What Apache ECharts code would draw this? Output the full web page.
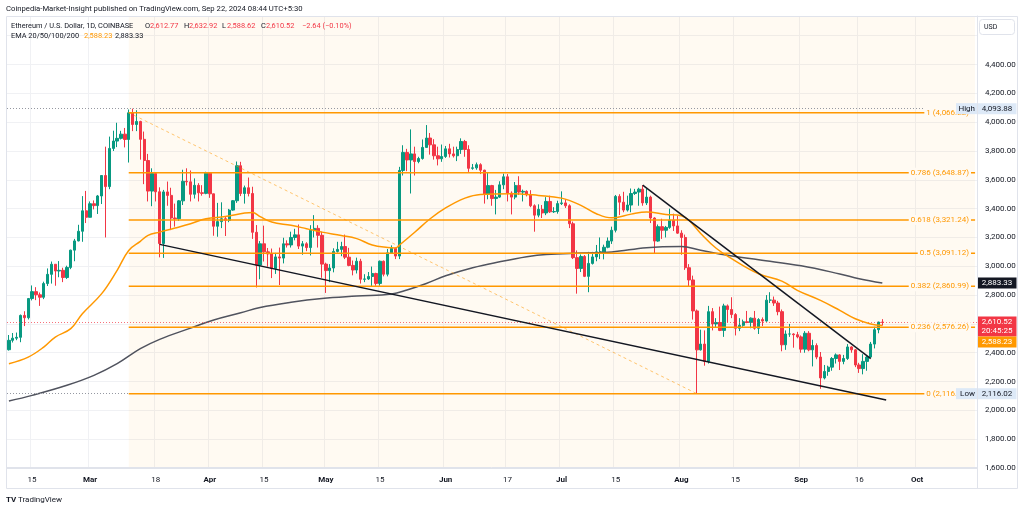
<!DOCTYPE html>
<html><head><meta charset="utf-8">
<script src="https://cdn.jsdelivr.net/npm/echarts@6/dist/echarts.min.js"></script>
<style>html,body{margin:0;padding:0;background:#fff}#c{width:1024px;height:511px}</style>
</head><body><div id="c"></div>
<script>
// ---------------- DATA ----------------
const startDate = '2024-02-09';
const categoryCount = 251;
const tickDates = ['2024-02-15','2024-03-01','2024-03-18','2024-04-01','2024-04-15','2024-05-01','2024-05-15','2024-06-01','2024-06-17','2024-07-01','2024-07-15','2024-08-01','2024-08-15','2024-09-01','2024-09-16','2024-10-01'];
const monthNames = ['Jan','Feb','Mar','Apr','May','Jun','Jul','Aug','Sep','Oct','Nov','Dec'];

// candles: [open, close, low, high], one row per day
const febCandles = [
[2421,2486,2415,2523],[2486,2501,2471,2537],[2501,2507,2487,2540],[2507,2659,2473,2665],[2659,2643,2585,2688],
[2643,2776,2631,2780],[2776,2824,2763,2867],[2824,2802,2765,2855],[2802,2785,2725,2818],[2785,2880,2772,2893],
[2880,2944,2863,2985],[2944,3014,2880,3033],[3014,2967,2865,3015],[2967,2972,2924,3036],[2972,2922,2890,2990],
[2922,2992,2912,3004],[2992,3112,2980,3115],[3112,3176,3035,3190],[3176,3243,3173,3288],[3243,3385,3170,3487],
[3385,3340,3300,3523]];
const marCandles = [
[3340,3434,3340,3450],[3434,3421,3395,3457],[3421,3488,3363,3495],[3488,3630,3432,3633],[3630,3553,3200,3830],
[3553,3818,3535,3900],[3818,3869,3800,3941],[3869,3888,3827,3996],[3888,3917,3880,3940],[3917,3880,3825,3960],
[3880,4065,3720,4088],[4065,3984,3938,4093.88],[3984,4005,3938,4083],[4005,3881,3740,4010],[3881,3734,3570,3935],
[3734,3522,3450,3780],[3522,3644,3417,3680],[3644,3517,3450,3645],[3517,3158,3062,3548],[3158,3516,3058,3530],
[3516,3492,3420,3588],[3492,3335,3251,3545],[3335,3330,3275,3435],[3330,3454,3315,3460],[3454,3590,3425,3670],
[3590,3586,3560,3680],[3586,3500,3450,3665],[3500,3562,3470,3610],[3562,3510,3450,3577],[3510,3506,3490,3563],
[3506,3646,3500,3656]];
const aprCandles = [
[3646,3503,3475,3650],[3503,3278,3212,3504],[3278,3310,3205,3440],[3310,3330,3265,3444],[3330,3318,3210,3345],
[3318,3390,3306,3398],[3390,3455,3385,3460],[3455,3698,3440,3727],[3698,3505,3487,3725],[3505,3545,3435,3560],
[3545,3505,3485,3616],[3505,3236,3190,3552],[3236,3008,2853,3286],[3008,3156,2910,3175],[3156,3100,3033,3282],
[3100,3086,2997,3127],[3086,2985,2918,3123],[2985,3065,2947,3093],[3065,3057,2870,3130],[3057,3156,3020,3198],
[3156,3148,3130,3180],[3148,3200,3130,3240],[3200,3218,3180,3260],[3218,3140,3120,3290],[3140,3156,3080,3175],
[3156,3130,3105,3167],[3130,3250,3075,3285],[3250,3263,3200,3355],[3263,3215,3130,3285],[3215,3015,2920,3240]];
const mayCandles = [
[3015,2970,2815,3025],[2970,2988,2890,3015],[2988,3103,2958,3125],[3103,3117,3095,3170],[3117,3137,3070,3170],
[3137,3063,3050,3220],[3063,3006,3000,3128],[3006,2974,2937,3040],[2974,3035,2950,3060],[3035,2910,2880,3052],
[2910,2912,2890,2945],[2912,2929,2905,2960],[2929,2950,2863,2998],[2950,2881,2865,2955],[2881,3035,2865,3040],
[3035,2945,2930,3040],[2945,3093,2930,3120],[3093,3124,3090,3145],[3124,3071,3050,3130],[3071,3665,3050,3690],
[3665,3790,3630,3840],[3790,3738,3660,3815],[3738,3780,3505,3950],[3780,3727,3630,3830],[3727,3748,3715,3760],
[3748,3825,3740,3880],[3825,3890,3825,3980],[3890,3843,3775,3925],[3843,3767,3740,3882],[3767,3746,3700,3830],
[3746,3762,3725,3845]];
const junCandles = [
[3762,3815,3752,3835],[3815,3780,3755,3850],[3780,3767,3755,3830],[3767,3810,3730,3830],[3810,3866,3780,3888],
[3866,3811,3760,3877],[3811,3680,3655,3840],[3680,3683,3670,3710],[3683,3705,3670,3720],[3705,3667,3640,3715],
[3667,3500,3435,3670],[3500,3560,3465,3650],[3560,3470,3420,3565],[3470,3480,3360,3530],[3480,3565,3475,3590],
[3565,3621,3535,3643],[3621,3508,3450,3640],[3508,3480,3360,3520],[3480,3561,3465,3585],[3561,3515,3495,3625],
[3515,3520,3450,3532],[3520,3497,3485,3527],[3497,3420,3410,3528],[3420,3355,3240,3430],[3355,3395,3340,3430],
[3395,3370,3335,3425],[3370,3450,3355,3480],[3450,3378,3370,3490],[3378,3380,3370,3410],[3380,3435,3365,3455]];
const julCandles = [
[3435,3440,3425,3520],[3440,3420,3405,3465],[3420,3295,3265,3430],[3295,3060,3050,3310],[3060,2985,2810,3110],
[2985,3068,2960,3082],[3068,2930,2925,3078],[2930,3020,2820,3100],[3020,3065,3012,3100],[3065,3100,3035,3148],
[3100,3100,3050,3200],[3100,3132,3048,3150],[3132,3175,3125,3200],[3175,3250,3155,3275],[3250,3485,3235,3495],
[3485,3445,3355,3500],[3445,3390,3375,3517],[3390,3425,3380,3490],[3425,3505,3375,3540],[3505,3515,3495,3537],
[3515,3535,3420,3545],[3535,3440,3420,3563],[3440,3480,3425,3540],[3480,3335,3300,3490],[3335,3175,3090,3340],
[3175,3275,3170,3290],[3275,3250,3190,3330],[3250,3270,3200,3280],[3270,3320,3260,3400],[3320,3280,3245,3365],
[3280,3230,3225,3350]];
const augCandles = [
[3230,3200,3080,3250],[3200,2990,2975,3220],[2990,2905,2860,3015],[2905,2690,2630,2935],[2690,2420,2116.02,2700],
[2420,2460,2415,2560],[2460,2340,2310,2555],[2340,2685,2325,2725],[2685,2600,2555,2710],[2600,2610,2575,2640],
[2610,2555,2550,2720],[2555,2725,2510,2740],[2725,2700,2610,2735],[2700,2665,2640,2785],[2665,2570,2520,2675],
[2570,2590,2550,2640],[2590,2615,2580,2630],[2615,2610,2605,2690],[2610,2640,2570,2645],[2640,2570,2560,2690],
[2570,2630,2530,2640],[2630,2620,2585,2645],[2620,2765,2615,2800],[2765,2765,2745,2820],[2765,2745,2725,2790],
[2745,2685,2660,2760],[2685,2455,2410,2700],[2455,2530,2420,2555],[2530,2530,2510,2600],[2530,2525,2435,2535],
[2525,2510,2500,2545]];
const sepCandles = [
[2510,2425,2400,2520],[2425,2535,2400,2550],[2535,2420,2410,2550],[2420,2450,2305,2490],[2450,2370,2355,2465],
[2370,2225,2150,2405],[2225,2270,2215,2315],[2270,2300,2240,2310],[2300,2360,2275,2370],[2360,2385,2325,2395],
[2385,2340,2280,2390],[2340,2360,2320,2385],[2360,2440,2350,2460],[2440,2420,2400,2445],[2420,2315,2300,2425],
[2315,2290,2260,2330],[2290,2340,2250,2390],[2340,2370,2275,2380],[2370,2460,2365,2475],[2460,2560,2430,2580],
[2560,2613,2535,2615],[2612.77,2610.52,2588.62,2632.92]];

// EMA lines
const ema50Points = [
['2024-02-09',2324],['2024-02-14',2370],['2024-02-18',2439],['2024-02-21',2509],['2024-02-25',2567],['2024-02-28',2671],
['2024-03-04',2810],['2024-03-08',2972],['2024-03-11',3110],['2024-03-14',3173],['2024-03-16',3214],['2024-03-19',3237],
['2024-03-23',3265],['2024-03-27',3295],['2024-03-31',3330],['2024-04-05',3345],['2024-04-10',3369],['2024-04-12',3374],
['2024-04-14',3345],['2024-04-17',3307],['2024-04-22',3284],['2024-04-26',3261],['2024-04-30',3237],['2024-05-05',3214],
['2024-05-09',3192],['2024-05-13',3148],['2024-05-17',3130],['2024-05-19',3127],['2024-05-20',3146],['2024-05-24',3236],
['2024-05-28',3330],['2024-06-01',3405],['2024-06-06',3473],['2024-06-10',3499],['2024-06-18',3504],['2024-06-25',3492],
['2024-07-01',3473],['2024-07-06',3423],['2024-07-10',3365],['2024-07-14',3336],['2024-07-19',3362],['2024-07-23',3376],
['2024-07-28',3360],['2024-08-01',3350],['2024-08-03',3318],['2024-08-06',3228],['2024-08-10',3125],['2024-08-14',3053],
['2024-08-21',2948],['2024-08-27',2897],['2024-08-31',2833],['2024-09-06',2763],['2024-09-11',2694],['2024-09-15',2636],
['2024-09-19',2600],['2024-09-22',2588.23]];
const ema200Points = [
['2024-02-09',2065],['2024-02-15',2104],['2024-02-24',2174],['2024-03-02',2243],['2024-03-08',2324],['2024-03-14',2428],
['2024-03-19',2493],['2024-03-27',2571],['2024-04-02',2627],['2024-04-09',2677],['2024-04-14',2714],['2024-04-22',2750],
['2024-04-30',2776],['2024-05-09',2793],['2024-05-18',2808],['2024-05-22',2836],['2024-05-27',2881],['2024-06-01',2934],
['2024-06-08',2990],['2024-06-15',3031],['2024-06-22',3066],['2024-06-27',3082],['2024-07-06',3092],['2024-07-14',3099],
['2024-07-23',3129],['2024-08-01',3137],['2024-08-06',3111],['2024-08-13',3076],['2024-08-21',3045],['2024-09-01',3003],
['2024-09-11',2947],['2024-09-16',2914],['2024-09-22',2883.33]];

// Drawings
const fibStart = '2024-03-11';
const fibLevels = ['1','0.786','0.618','0.5','0.382','0.236','0'];
const fibPrices = [4066.22,3648.87,3321.24,3091.12,2860.99,2576.26,2116.02];
const fibDiagonal = [['2024-03-11',4066.22],['2024-08-05',2116.02]];
const wedgeLower = [['2024-03-19',3152],['2024-09-23',2072]];
const wedgeUpper = [['2024-07-22',3563],['2024-09-19',2359]];
const highPrice = 4093.88, lowPrice = 2116.02;
const lastClose = 2610.52, ema50Last = 2588.23, ema200Last = 2883.33;
const countdown = '20:45:25';
const ohlcLegend = {o:'2,612.77', h:'2,632.92', l:'2,588.62', c:'2,610.52', chg:'\u22122.64 (\u22120.10%)'};

// ---------------- BUILD ----------------
const categories = [];
{ let d = new Date(startDate + 'T00:00:00Z');
  for (let i = 0; i < categoryCount; i++) { categories.push(d.toISOString().slice(0,10)); d.setUTCDate(d.getUTCDate()+1); } }
const lastCat = categories[categories.length-1];
const candles = [].concat(febCandles, marCandles, aprCandles, mayCandles, junCandles, julCandles, augCandles, sepCandles);
const fmt = v => v.toLocaleString('en-US',{minimumFractionDigits:2, maximumFractionDigits:2});
const FONT = 'Roboto';
const TXT = '#131722';
const UP = '#089981', DOWN = '#f23645', ORANGE = '#ff9800';

const chart = echarts.init(document.getElementById('c'), null, {renderer:'canvas'});
const GRID = {left:7, right:47, top:16, bottom:43};

const series = [];
series.push({ type:'line', data:[], z:1, silent:true,
  markArea:{ silent:true, itemStyle:{color:'rgba(255,152,0,0.05)'}, data:[[{xAxis:fibStart},{xAxis:lastCat}]] } });
series.push({ type:'candlestick', data:candles, z:3, barWidth:'74%',
  itemStyle:{color:UP, color0:DOWN, borderColor:UP, borderColor0:DOWN, borderWidth:1} });
series.push({ type:'line', data:ema200Points, smooth:0.4, symbol:'none', z:4, lineStyle:{color:'#50535e', width:1.5},
  markLine:{ silent:true, symbol:['none','none'], label:{show:false},
    data:[ {yAxis:highPrice, lineStyle:{color:'#9598a1', type:[1,2], width:1}},
           {yAxis:lowPrice, lineStyle:{color:'#9598a1', type:[1,2], width:1}},
           {yAxis:lastClose, lineStyle:{color:'#f23645', type:[1,2], width:1, opacity:0.7}} ] } });
series.push({ type:'line', data:ema50Points, smooth:0.4, symbol:'none', z:5, lineStyle:{color:ORANGE, width:1.5} });
fibPrices.forEach(p => series.push({ type:'line', data:[[fibStart,p],[lastCat,p]], symbol:'none', z:6, silent:true,
  lineStyle:{color:ORANGE, width:1.5} }));
series.push({ type:'line', data:fibDiagonal, symbol:'none', z:6, lineStyle:{color:'rgba(255,152,0,0.55)', width:1, type:[3,3]} });
series.push({ type:'line', data:wedgeLower, symbol:'none', z:7, lineStyle:{color:'#131722', width:1.5} });
series.push({ type:'line', data:wedgeUpper, symbol:'none', z:7, lineStyle:{color:'#131722', width:1.5} });

chart.setOption({
  animation:false,
  backgroundColor:'#ffffff',
  grid:{...GRID, containLabel:false, outerBoundsMode:'none'},
  xAxis:{ type:'category', data:categories, boundaryGap:true,
    axisLine:{show:true, lineStyle:{color:'#e0e3eb'}}, axisTick:{show:false},
    axisLabel:{ interval:(i,v)=>tickDates.includes(v), color:TXT, fontSize:8, fontFamily:FONT, margin:8,
      formatter:v=>{ const p=v.split('-'); return p[2]==='01' ? '{b|'+monthNames[+p[1]-1]+'}' : String(+p[2]); },
      rich:{b:{fontWeight:'bold', fontSize:8, fontFamily:FONT, color:TXT}} },
    splitLine:{show:true, lineStyle:{color:'#f0f1f4', width:1}} },
  yAxis:{ type:'value', position:'right', min:1600, max:4737, interval:200, scale:true,
    axisLine:{show:true, lineStyle:{color:'#e0e3eb'}}, axisTick:{show:false},
    axisLabel:{ color:TXT, fontSize:8, fontFamily:FONT, margin:8, showMaxLabel:false,
      formatter:v=> v>4500 ? '' : fmt(v) },
    splitLine:{show:true, lineStyle:{color:'#f0f1f4', width:1}} },
  series
});

// ---------------- OVERLAYS ----------------
const py = v => chart.convertToPixel({yAxisIndex:0}, v);
const W = 1024;
const paneRight = W - GRID.right;
const g = [];
// frame
g.push({type:'rect', shape:{x:6.5, y:16.5, width:1011, height:472}, style:{fill:'none', stroke:'#e0e3eb', lineWidth:1}, z:1, silent:true});
g.push({type:'line', shape:{x1:6, y1:467.5, x2:paneRight, y2:467.5}, style:{stroke:'#e0e3eb', lineWidth:1}, z:1});
g.push({type:'line', shape:{x1:paneRight+0.5, y1:16, x2:paneRight+0.5, y2:489}, style:{stroke:'#e0e3eb', lineWidth:1}, z:1});
// fib labels
fibPrices.forEach((p,i)=>{
  g.push({type:'text', x:paneRight-6, y:py(p), z:60, style:{text:fibLevels[i]+' ('+fmt(p)+')', fill:ORANGE,
    font:'8px '+FONT, align:'right', verticalAlign:'middle', backgroundColor:'#fffaf3', padding:[1,2,1,2]}});
});
function tag(y, txt, bg, fg, h){
  g.push({type:'rect', shape:{x:paneRight+1, y:y-h/2, width:38.5, height:h}, style:{fill:bg}, z:70});
  g.push({type:'text', x:paneRight+20, y:y, z:71, style:{text:txt, fill:fg, font:'8px '+FONT, align:'center', verticalAlign:'middle'}});
}
// High / Low tags
[[highPrice,'High'],[lowPrice,'Low']].forEach(([v,name])=>{
  const y = py(v);
  g.push({type:'rect', shape:{x:paneRight-21, y:y-5.5, width:21, height:11}, style:{fill:'#dde9f7'}, z:70});
  g.push({type:'text', x:paneRight-2, y:y, z:71, style:{text:name, fill:TXT, font:'8px '+FONT, align:'right', verticalAlign:'middle'}});
  tag(y, fmt(v), '#dde9f7', TXT, 11);
});
tag(py(ema200Last), fmt(ema200Last), '#131722', '#ffffff', 11);
{ const y = py(lastClose);
  g.push({type:'rect', shape:{x:paneRight+1, y:y-6, width:38.5, height:20}, style:{fill:'#f23645'}, z:70});
  g.push({type:'text', x:paneRight+20, y:y, z:71, style:{text:fmt(lastClose), fill:'#fff', font:'8px '+FONT, align:'center', verticalAlign:'middle'}});
  g.push({type:'text', x:paneRight+20, y:y+9, z:71, style:{text:countdown, fill:'#fff', font:'8px '+FONT, align:'center', verticalAlign:'middle'}});
  tag(y+19.5, fmt(ema50Last), ORANGE, '#fff', 11);
}
// USD button
g.push({type:'rect', shape:{x:979.5, y:19.5, width:35, height:15, r:3}, style:{fill:'#fff', stroke:'#e0e3eb'}, z:70});
g.push({type:'text', x:984, y:27, z:71, style:{text:'USD', fill:TXT, font:'7px '+FONT, verticalAlign:'middle'}});
// header
g.push({type:'text', x:6, y:9, z:80, style:{text:'Coinpedia-Market-Insight published on TradingView.com, Sep 22, 2024 08:44 UTC+5:30', fill:TXT, font:'7.7px '+FONT, verticalAlign:'middle'}});
const hdr = (x,y,t,c)=>g.push({type:'text', x, y, z:80, style:{text:t, fill:c, font:'7.4px '+FONT, verticalAlign:'middle'}});
hdr(11,26,'Ethereum / U.S. Dollar, 1D, COINBASE',TXT);
hdr(145,26,'O',TXT); hdr(150,26,ohlcLegend.o,DOWN);
hdr(184,26,'H',TXT); hdr(189,26,ohlcLegend.h,DOWN);
hdr(222,26,'L',TXT); hdr(227,26,ohlcLegend.l,DOWN);
hdr(261,26,'C',TXT); hdr(266,26,ohlcLegend.c,DOWN);
hdr(302,26,ohlcLegend.chg,DOWN);
hdr(11,36,'EMA 20/50/100/200',TXT); hdr(84,36,fmt(ema50Last),ORANGE); hdr(115,36,fmt(ema200Last),TXT);
// logo
g.push({type:'text', x:6, y:500, z:80, style:{text:'TV', fill:TXT, font:'bold 8px '+FONT, verticalAlign:'middle'}});
g.push({type:'text', x:18, y:500, z:80, style:{text:'TradingView', fill:TXT, font:'8px '+FONT, verticalAlign:'middle'}});
chart.setOption({graphic:{elements:g}});
</script></body></html>
